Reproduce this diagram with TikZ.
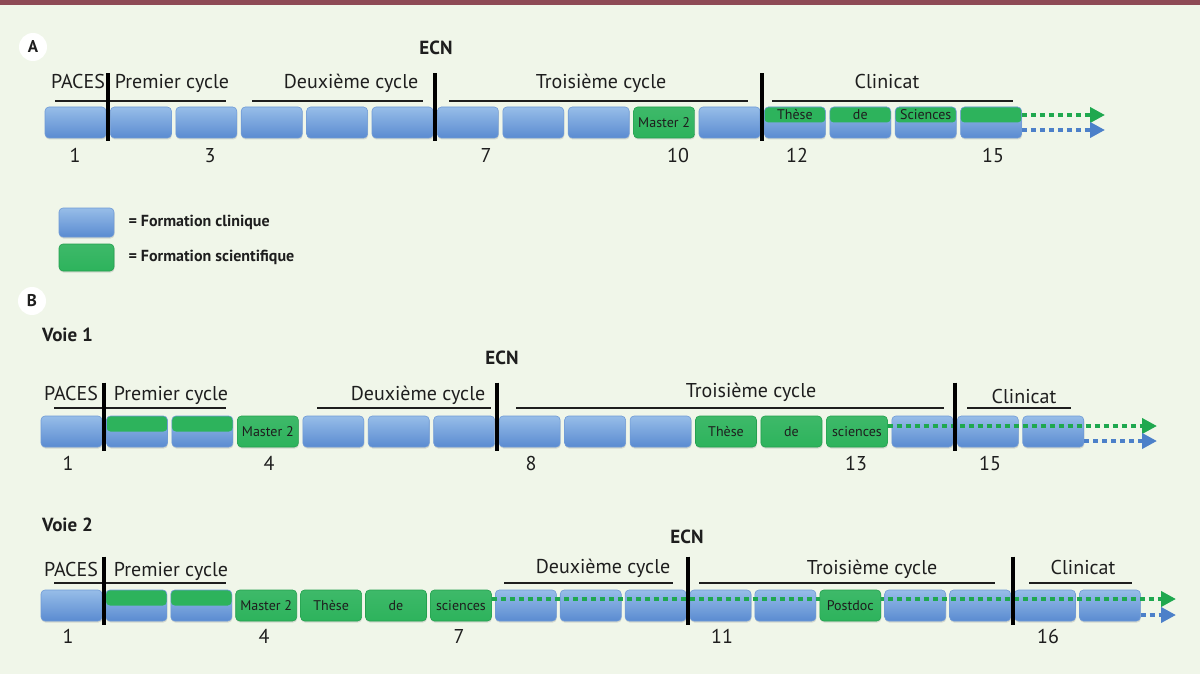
\documentclass[tikz,border=0pt]{standalone}
\usepackage{fontspec}
\setmainfont{PT Sans}
\usetikzlibrary{calc,positioning,arrows.meta,shadows}
\definecolor{panel}{HTML}{F0F6E9}
\definecolor{topbar}{HTML}{8E4A55}
\definecolor{ink}{HTML}{1E1E1E}
\definecolor{clintop}{HTML}{97BDE8}
\definecolor{clinbot}{HTML}{5A8BD1}
\definecolor{clinline}{HTML}{6F9AD6}
\definecolor{scigreen}{HTML}{2DB35C}
\definecolor{sciline}{HTML}{24A04F}
\definecolor{dotgreen}{HTML}{1FA84F}
\definecolor{dotblue}{HTML}{4C80C9}
\tikzset{
	box/.style={rectangle, rounded corners=4pt, minimum width=61pt, minimum height=31pt,
		inner sep=0pt, top color=clintop, bottom color=clinbot, draw=clinline, line width=0.6pt,
		drop shadow={shadow xshift=0.5pt, shadow yshift=-1.5pt, opacity=0.25},
		text=ink, font=\fontsize{14}{14}\selectfont},
	scibox/.style={box, top color=scigreen!92!white, bottom color=scigreen, draw=sciline},
	halfbox/.style={box, path picture={
		\fill[scigreen] (path picture bounding box.north west) rectangle (path picture bounding box.east);
		\node[inner sep=0pt, text=ink, font=\fontsize{14}{14}\selectfont] at ([yshift=-8pt]path picture bounding box.north) {#1};}},
	halfbox/.default={},
	phase/.style={anchor=base, inner sep=0pt, text=ink, font=\fontsize{20}{22}\selectfont},
	year/.style={phase},
	ecn/.style={anchor=base, inner sep=0pt, text=ink, font=\bfseries\fontsize{19}{21}\selectfont},
	voie/.style={anchor=base west, inner sep=0pt, text=ink, font=\bfseries\fontsize{19}{21}\selectfont},
	legtext/.style={inner sep=0pt, text=ink, font=\bfseries\fontsize{16}{18}\selectfont},
	tag/.style={circle, fill=white, minimum size=28pt, inner sep=0pt, text=ink, font=\bfseries\fontsize{17}{17}\selectfont},
	span/.style={ink, line width=1.5pt},
	sep/.style={black, line width=4pt},
	sciarrow/.style={dotgreen, line width=4pt, dash pattern=on 5pt off 4pt, -{Triangle[length=15pt,width=15pt]}},
	clinarrow/.style={sciarrow, dotblue},
}

\begin{document}
\begin{tikzpicture}[x=1pt, y=-1pt]
	\fill[panel] (0,0) rectangle (1200,674);
	\fill[topbar] (0,0) rectangle (1200,5);
	\useasboundingbox (0,0) rectangle (1200,674);

	% A
	\node[tag] (tagA) at (33,47) {A};
	\node[ecn] (ecnA) at (436,55) {ECN};
	\node[phase] (pacesA) at (78,89) {PACES};
	\node[phase] (premA) at (172,89) {Premier cycle};
	\node[phase] (deuxA) at (351,89) {Deuxième cycle};
	\node[phase] (troisA) at (601,89) {Troisième cycle};
	\node[phase] (clinA) at (887,89) {Clinicat};
	\foreach \xa/\xb in {55/226, 252/423, 449/748, 772/1013}
		\draw[span] (\xa,101) -- (\xb,101);

	\foreach \i in {1,...,9,11}
		\node[box] (a\i) at ({75.5+(\i-1)*65.4},122.5) {};
	\node[scibox] (a10) at ({75.5+9*65.4},122.5) {Master 2};
	\node[halfbox=Thèse] (a12) at ({75.5+11*65.4},122.5) {};
	\node[halfbox=de] (a13) at ({75.5+12*65.4},122.5) {};
	\node[halfbox=Sciences] (a14) at ({75.5+13*65.4},122.5) {};
	\node[halfbox] (a15) at ({75.5+14*65.4},122.5) {};

	\coordinate (aendsci) at (1105,115);
	\coordinate (aendclin) at (1105,130);
	\draw[sciarrow] ([yshift=7.5pt]a15.east) -- (aendsci);
	\draw[clinarrow] ([yshift=-7.5pt]a15.east) -- (aendclin);
	\foreach \p/\n in {1/2, 6/7, 11/12}
		\draw[sep] ($(a\p.east)!.5!(a\n.west)+(0,-49)$) -- ++(0,68);

	\foreach \n/\x in {1/75, 3/210, 7/486, 10/678, 12/797, 15/993}
		\node[year] (ya\n) at (\x,163) {\n};

	% legende
	\node[box, minimum width=55pt, minimum height=29pt] (legclin) at (86.5,222.5) {};
	\node[scibox, minimum width=55pt, minimum height=27pt] (legsci) at (86.5,257.5) {};
	\node[legtext, right=14pt of legclin] (legclintxt) {= Formation clinique};
	\node[legtext, right=14pt of legsci] (legscitxt) {= Formation scientifique};

	% B, voie 1
	\node[tag] (tagB) at (32,301) {B};
	\node[voie] (voie1) at (42,341) {Voie 1};
	\node[ecn] (ecnB) at (502,364) {ECN};
	\node[phase] (pacesB) at (71,400) {PACES};
	\node[phase] (premB) at (171,400) {Premier cycle};
	\node[phase] (deuxB) at (418,400) {Deuxième cycle};
	\node[phase] (troisB) at (751,397) {Troisième cycle};
	\node[phase] (clinB) at (1024,403) {Clinicat};
	\foreach \xa/\xb in {54/226, 317/491, 516/944, 967/1071}
		\draw[span] (\xa,408) -- (\xb,408);

	\foreach \i in {1,5,6,7,8,9,10,14,15,16}
		\node[box] (b\i) at ({71.5+(\i-1)*65.45},431.5) {};
	\node[halfbox] (b2) at ({71.5+1*65.45},431.5) {};
	\node[halfbox] (b3) at ({71.5+2*65.45},431.5) {};
	\node[scibox] (b4) at ({71.5+3*65.45},431.5) {Master 2};
	\node[scibox] (b11) at ({71.5+10*65.45},431.5) {Thèse};
	\node[scibox] (b12) at ({71.5+11*65.45},431.5) {de};
	\node[scibox] (b13) at ({71.5+12*65.45},431.5) {sciences};

	\coordinate (bendsci) at (1157,426);
	\coordinate (bendclin) at (1157,441);
	\draw[sciarrow] ([yshift=5.5pt]b13.east) -- (bendsci);
	\draw[clinarrow] ([yshift=-9.5pt]b16.east) -- (bendclin);
	\foreach \p/\n in {1/2, 7/8, 14/15}
		\draw[sep] ($(b\p.east)!.5!(b\n.west)+(0,-49)$) -- ++(0,68);

	\foreach \n/\x in {1/68, 4/269, 8/531, 13/856, 15/990}
		\node[year] (yb\n) at (\x,470) {\n};

	% voie 2
	\node[voie] (voie2) at (42,531) {Voie 2};
	\node[ecn] (ecnC) at (687,543) {ECN};
	\node[phase] (pacesC) at (71,576) {PACES};
	\node[phase] (premC) at (171,576) {Premier cycle};
	\node[phase] (deuxC) at (603,573) {Deuxième cycle};
	\node[phase] (troisC) at (872,574) {Troisième cycle};
	\node[phase] (clinC) at (1083,574) {Clinicat};
	\foreach \xa/\xb in {54/226, 504/673, 699/995, 1029/1132}
		\draw[span] (\xa,583) -- (\xb,583);

	\foreach \i in {1,8,9,10,11,12,14,15,16,17}
		\node[box] (c\i) at ({71.5+(\i-1)*64.9},605.5) {};
	\node[halfbox] (c2) at ({71.5+1*64.9},605.5) {};
	\node[halfbox] (c3) at ({71.5+2*64.9},605.5) {};
	\node[scibox] (c4) at ({71.5+3*64.9},605.5) {Master 2};
	\node[scibox] (c5) at ({71.5+4*64.9},605.5) {Thèse};
	\node[scibox] (c6) at ({71.5+5*64.9},605.5) {de};
	\node[scibox] (c7) at ({71.5+6*64.9},605.5) {sciences};

	\coordinate (cendsci) at (1176,599);
	\coordinate (cendclin) at (1176,615);
	\draw[sciarrow] ([yshift=6.5pt]c7.east) -- (cendsci);
	\draw[clinarrow] ([yshift=-9.5pt]c17.east) -- (cendclin);
	\node[scibox] (c13) at ({71.5+12*64.9},605.5) {Postdoc};
	\foreach \p/\n in {1/2, 10/11, 15/16}
		\draw[sep] ($(c\p.east)!.5!(c\n.west)+(0,-49)$) -- ++(0,68);

	\foreach \n/\x in {1/68, 4/264, 7/459, 11/722, 16/1048}
		\node[year] (yc\n) at (\x,643) {\n};
\end{tikzpicture}
\end{document}
